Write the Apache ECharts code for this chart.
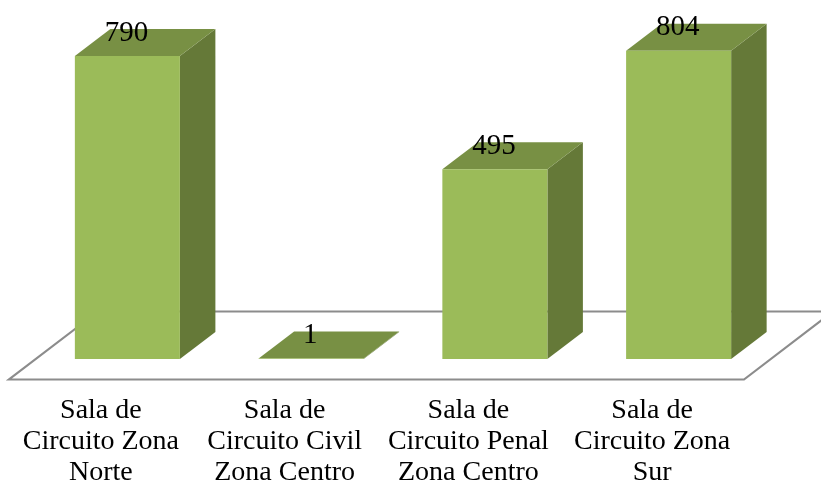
<!DOCTYPE html>
<html lang="en">
  <head>
    <meta charset="UTF-8" />
    <title>Salas de Circuito</title>
    <script src="https://cdn.jsdelivr.net/npm/echarts@6/dist/echarts.min.js"></script>
    <style>
      * {
        margin: 0;
        padding: 0;
        box-sizing: border-box;
      }
      body {
        overflow: hidden;
        background: #fff;
      }
      #chart {
        width: 821px;
        height: 482px;
      }
    </style>
  </head>
  <body>
    <div id="chart"></div>
    <script>
      const categories = [
        "Sala de\nCircuito Zona\nNorte",
        "Sala de\nCircuito Civil\nZona Centro",
        "Sala de\nCircuito Penal\nZona Centro",
        "Sala de\nCircuito Zona\nSur",
      ];
      const values = [790, 1, 495, 804];

      const serifFont = "'Liberation Serif', 'DejaVu Serif', serif";
      // fake 3d: bars stand inside the floor, the depth goes up and to the right
      const floorShift = [26.5, -20.5];
      const depth = [35.5, -27];
      const floorSpan = [89, -68];
      const barRatio = 0.5716;

      function renderFloor(params) {
        const g = params.coordSys;
        const x0 = g.x;
        const x1 = g.x + g.width;
        const y = g.y + g.height;
        return {
          type: "polygon",
          shape: {
            points: [
              [x0, y],
              [x1, y],
              [x1 + floorSpan[0], y + floorSpan[1]],
              [x0 + floorSpan[0], y + floorSpan[1]],
            ],
          },
          style: { fill: "#fff", stroke: "#8c8c8c", lineWidth: 2.2 },
        };
      }

      function renderBar(params, api) {
        const idx = api.value(0);
        const val = api.value(1);
        const base = api.coord([idx, 0]);
        const top = api.coord([idx, val]);
        const w = api.size([1, 0])[0] * barRatio;
        const xl = base[0] + floorShift[0] - w / 2;
        const xr = xl + w;
        const yb = base[1] + floorShift[1];
        const yt = top[1] + floorShift[1];
        const dx = depth[0];
        const dy = depth[1];
        return {
          type: "group",
          children: [
            {
              type: "polygon",
              shape: { points: [[xr, yt], [xr + dx, yt + dy], [xr + dx, yb + dy], [xr, yb]] },
              style: { fill: "#657938" },
            },
            {
              type: "polygon",
              shape: { points: [[xl, yt], [xl + dx, yt + dy], [xr + dx, yt + dy], [xr, yt]] },
              style: { fill: "#789044" },
            },
            {
              type: "rect",
              shape: { x: xl, y: yt, width: w, height: yb - yt },
              style: { fill: "#9bbb59" },
            },
            {
              type: "text",
              x: xl + w / 2 - 1,
              y: yt - 23,
              style: {
                text: String(val),
                fill: "#000",
                font: "29px " + serifFont,
                align: "center",
                verticalAlign: "middle",
              },
            },
          ],
        };
      }

      const myChart = echarts.init(document.getElementById("chart"));
      myChart.setOption({
        animation: false,
        grid: { left: 9, width: 735, top: 34.35, height: 345.15, outerBoundsMode: "none" },
        xAxis: {
          type: "category",
          data: categories,
          axisLine: { show: false },
          axisTick: { show: false },
          axisLabel: {
            interval: 0,
            margin: 16,
            color: "#000",
            fontFamily: serifFont,
            fontSize: 28,
            lineHeight: 31,
          },
        },
        yAxis: { type: "value", min: 0, max: 900, show: false },
        series: [
          { type: "custom", renderItem: renderFloor, data: [[0, 0]], z: 1, silent: true },
          {
            type: "custom",
            renderItem: renderBar,
            encode: { x: 0, y: 1 },
            data: values.map((v, i) => [i, v]),
            z: 2,
          },
        ],
      });
    </script>
  </body>
</html>
